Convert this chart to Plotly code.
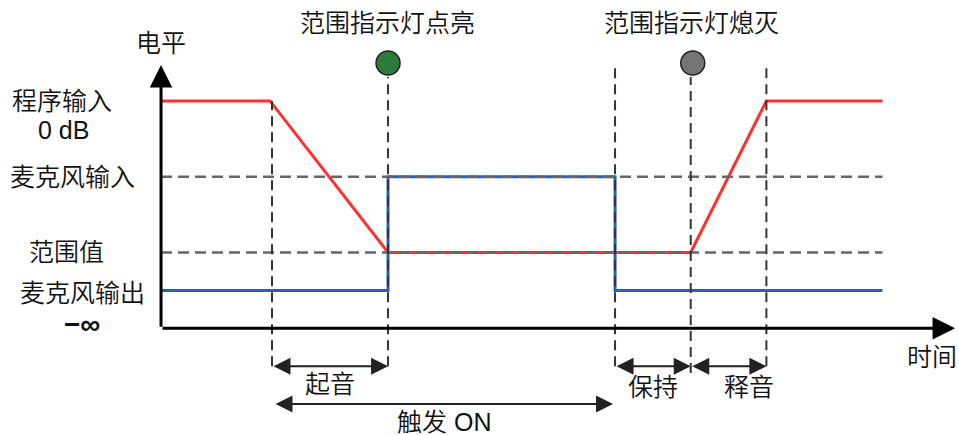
import plotly.graph_objects as go

# time axis (arbitrary units) and level axis (ordered steps, 0 = -inf)
red_t = [0, 1.08, 2.25, 5.25, 6.0, 7.15]
red_level = [6, 6, 2, 2, 6, 6]
blue_t = [0, 2.25, 2.25, 4.5, 4.5, 7.15]
blue_level = [1, 1, 4, 4, 1, 1]

guide_levels = [4, 2]          # 麦克风输入, 范围值
guide_end = 7.15

event_t = [1.1, 2.25, 4.5, 5.25, 6.0]
event_top = [6.0, 6.63, 7.0, 6.63, 6.95]
event_bottom = [-1.0, -1.0, -1.0, -1.18, -1.0]

light_t = [2.25, 5.27]
light_level = [7.0, 7.0]
light_fill = ["#2e7a3a", "#737373"]
light_titles = ["范围指示灯点亮", "范围指示灯熄灭"]

span_start = [1.1, 4.5, 5.25, 1.12]
span_end = [2.25, 5.25, 6.0, 4.48]
span_level = [-1.0, -1.0, -1.0, -2.0]
span_label = ["起音", "保持", "释音", "触发 ON"]
span_label_dx = [0, 0, 0.2, 0]
span_label_dy = [-0.47, -0.55, -0.55, -0.47]

level_labels = ["程序输入", "0 dB", "麦克风输入", "范围值", "麦克风输出", "<b>−∞</b>"]
level_label_t = [-0.98, -0.97, -0.877, -0.94, -0.78, -0.78]
level_label_y = [6.0, 5.23, 3.99, 2.01, 0.93, 0.09]

FONT = ("Liberation Sans, Noto Sans CJK SC DemiLight, Noto Sans CJK SC Light, "
        "Noto Sans CJK SC, sans-serif")
TXT = dict(family=FONT, size=25, color="#111111")

fig = go.Figure()

fig.add_trace(go.Scatter(x=red_t, y=red_level, mode="lines",
                         line=dict(color="#ff3030", width=3)))
fig.add_trace(go.Scatter(x=blue_t, y=blue_level, mode="lines",
                         line=dict(color="#2f5fb3", width=3)))

# dashed guides on top of the level lines
for lv in guide_levels:
    fig.add_trace(go.Scatter(x=[0, guide_end], y=[lv, lv], mode="lines",
                             line=dict(color="#666666", width=2.5, dash="11px,6px")))
for t, top, bot in zip(event_t, event_top, event_bottom):
    fig.add_trace(go.Scatter(x=[t, t], y=[bot, top], mode="lines",
                             line=dict(color="#333333", width=2, dash="10px,6px")))

fig.add_trace(go.Scatter(x=light_t, y=light_level, mode="markers",
                         marker=dict(size=24, color=light_fill,
                                     line=dict(color="#222222", width=1.5))))

ann = []
# axes with arrows
ann.append(dict(x=7.87, y=0, ax=0, ay=0, xref="x", yref="y", axref="x", ayref="y",
                text="", showarrow=True, arrowhead=2, arrowsize=1.5,
                arrowwidth=3, arrowcolor="black"))
ann.append(dict(x=0, y=6.95, ax=0, ay=0, xref="x", yref="y", axref="x", ayref="y",
                text="", showarrow=True, arrowhead=2, arrowsize=1.5,
                arrowwidth=3, arrowcolor="black"))

# duration spans
for s, e, lv, lab, dx, dy in zip(span_start, span_end, span_level, span_label,
                                 span_label_dx, span_label_dy):
    ann.append(dict(x=e, y=lv, ax=s, ay=lv, xref="x", yref="y", axref="x", ayref="y",
                    text="", showarrow=True, arrowhead=2, arrowside="end+start",
                    arrowsize=1.7, arrowwidth=2, arrowcolor="#222222"))
    ann.append(dict(x=(s + e) / 2 + dx, y=lv + dy, xref="x", yref="y", text=lab,
                    showarrow=False, font=TXT))

for t, lab in zip(light_t, light_titles):
    ann.append(dict(x=t - 0.01, y=8.06, xref="x", yref="y", text=lab, showarrow=False,
                    font=TXT))

for lab, t, lv in zip(level_labels, level_label_t, level_label_y):
    ann.append(dict(x=t, y=lv, xref="x", yref="y", text=lab, showarrow=False,
                    font=TXT if lab != "<b>−∞</b>" else dict(TXT, size=28)))

ann.append(dict(x=0, y=7.53, xref="x", yref="y", text="电平", showarrow=False, font=TXT))
ann.append(dict(x=7.64, y=-0.76, xref="x", yref="y", text="时间", showarrow=False, font=TXT))

fig.update_layout(
    width=959, height=435,
    margin=dict(l=0, r=0, t=0, b=0),
    paper_bgcolor="white", plot_bgcolor="white",
    showlegend=False,
    xaxis=dict(range=[-1.596, 7.909], visible=False, fixedrange=True),
    yaxis=dict(range=[-2.815, 8.662], visible=False, fixedrange=True),
    annotations=ann,
)

# drop the browser's default 8px body margin so the figure fills the window
fig.write_html("out.html",
               config={"displayModeBar": False},
               post_script="document.body.style.margin='0';"
                           "document.body.style.overflow='hidden';")
